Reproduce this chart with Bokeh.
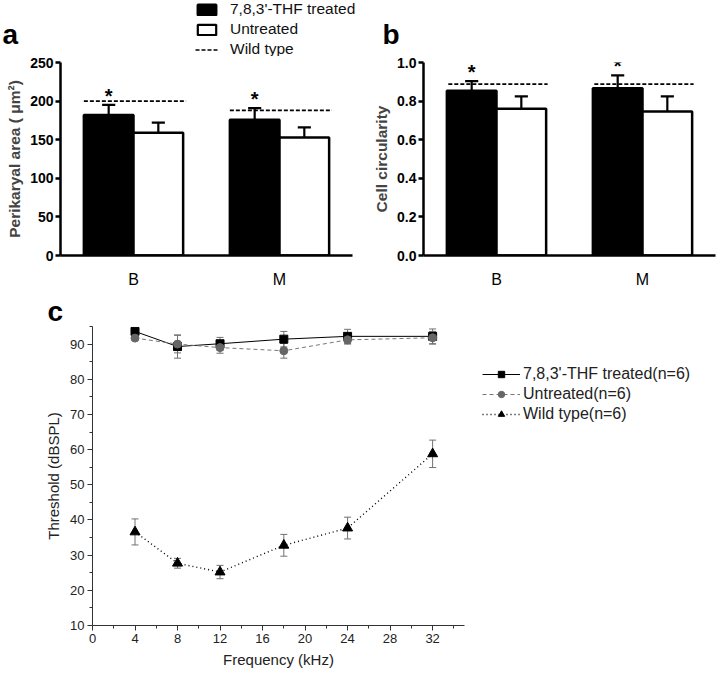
from bokeh.plotting import figure
from bokeh.models import (FactorRange, Range1d, Legend, LegendItem, Label, ColumnDataSource,
                          FixedTicker, PrintfTickFormatter)
from bokeh.transform import dodge
from bokeh.layouts import column, row
from bokeh.embed import file_html
from bokeh.resources import INLINE
from bokeh.core.properties import value

FONT = "Liberation Sans"
NAN = float("nan")

# ---------------- data ----------------
regions = ["B", "M"]
area_treated = [182, 176]
area_treated_err = [13, 15]
area_untreated = [159, 153]
area_untreated_err = [13, 13]
area_wild = [200, 188]
area_ticks = [0, 50, 100, 150, 200, 250]

circ_treated = [0.853, 0.866]
circ_treated_err = [0.05, 0.067]
circ_untreated = [0.76, 0.746]
circ_untreated_err = [0.065, 0.079]
circ_wild = [0.888, 0.888]
circ_ticks = [0.0, 0.2, 0.4, 0.6, 0.8, 1.0]

sig = ["*", "*"]

freq = [4, 8, 12, 18, 24, 32]
thr_treated = [93.6, 89.3, 90.1, 91.4, 92.2, 92.2]
thr_treated_err = [0.6, 3.3, 1.8, 2.2, 2.0, 2.1]
thr_untreated = [91.7, 90.0, 89.0, 88.1, 91.2, 91.8]
thr_untreated_err = [0.5, 2.5, 1.6, 2.1, 1.2, 1.8]
thr_wild = [36.6, 27.7, 25.2, 32.8, 37.7, 58.8]
thr_wild_err = [3.7, 1.4, 1.9, 3.1, 3.1, 3.9]
freq_ticks = [0, 4, 8, 12, 16, 20, 24, 28, 32]
freq_minor = [2, 6, 10, 14, 18, 22, 26, 30, 34]
thr_ticks = [10, 20, 30, 40, 50, 60, 70, 80, 90]
thr_minor = [15, 25, 35, 45, 55, 65, 75, 85, 95]

bar_labels = ["7,8,3'-THF treated", "Untreated", "Wild type"]
line_labels = ["7,8,3'-THF treated(n=6)", "Untreated(n=6)", "Wild type(n=6)"]
panel_letters = ["a", "b", "c"]

W = 720


def blank(width, height):
    p = figure(width=width, height=height, x_range=Range1d(0, width), y_range=Range1d(0, height),
               output_backend="svg", toolbar_location=None, min_border=0,
               x_axis_location=None, y_axis_location=None)
    p.outline_line_color = None
    p.grid.visible = False
    return p


def letter(p, text, x, y):
    p.add_layout(Label(x=x, y=y, text=text, text_font=FONT, text_font_size="28px",
                       text_font_style="bold", text_color="black", text_baseline="middle"))


# ---------------- header with key and letters a, b ----------------
head = blank(W, 56)
letter(head, panel_letters[0], 2, 22.5)
letter(head, panel_letters[1], 382, 22.5)
k1 = head.vbar(x=[NAN], top=[NAN], width=1, fill_color="black", line_color="black", line_width=2.5)
k2 = head.vbar(x=[NAN], top=[NAN], width=1, fill_color="white", line_color="black", line_width=2.2)
k3 = head.segment(x0=[NAN], y0=[NAN], x1=[NAN], y1=[NAN], line_color="black",
                  line_width=1.6, line_dash="4 2")
head.add_layout(Legend(items=[LegendItem(label=bar_labels[0], renderers=[k1]),
                              LegendItem(label=bar_labels[1], renderers=[k2]),
                              LegendItem(label=bar_labels[2], renderers=[k3])],
                       location=(195, -2), orientation="vertical",
                       glyph_width=23, glyph_height=13, label_height=13, spacing=2,
                       padding=0, margin=0, border_line_color=None, background_fill_alpha=0,
                       label_text_font=FONT, label_text_font_size="15.5px",
                       label_text_color="#111111", label_standoff=12))


def bar_panel(width, ymax, ticks, ylabel, treated, t_err, untreated, u_err, wild,
              border_left, border_right, wild_off, fmt=None):
    src = ColumnDataSource(dict(
        region=regions,
        t=treated, t_top=[a + b for a, b in zip(treated, t_err)],
        u=untreated, u_top=[a + b for a, b in zip(untreated, u_err)],
        w=wild, sig=sig))
    p = figure(x_range=FactorRange(*regions), y_range=Range1d(0, ymax),
               width=width, height=234, output_backend="svg", toolbar_location=None,
               min_border_left=border_left, min_border_right=border_right,
               min_border_top=6, min_border_bottom=35)
    p.x_range.range_padding = 0
    p.outline_line_color = None
    p.grid.visible = False
    off = 0.17
    bw = 0.34
    cap = 0.045
    p.vbar(x=dodge("region", -off, range=p.x_range), top="t", width=bw, source=src,
           fill_color="black", line_color="black", line_width=2.5)
    p.vbar(x=dodge("region", off, range=p.x_range), top="u", width=bw, source=src,
           fill_color="white", line_color="black", line_width=2.5)
    for o, base, top in ((-off, "t", "t_top"), (off, "u", "u_top")):
        p.segment(x0=dodge("region", o, range=p.x_range), y0=base,
                  x1=dodge("region", o, range=p.x_range), y1=top,
                  source=src, line_color="black", line_width=2.2)
        p.segment(x0=dodge("region", o - cap, range=p.x_range), y0=top,
                  x1=dodge("region", o + cap, range=p.x_range), y1=top,
                  source=src, line_color="black", line_width=2.2)
    p.segment(x0=dodge("region", wild_off[0], range=p.x_range), y0="w",
              x1=dodge("region", wild_off[1], range=p.x_range), y1="w",
              source=src, line_color="black", line_width=1.6, line_dash="4 2")
    p.text(x=dodge("region", -off, range=p.x_range), y="t_top", text="sig", source=src,
           text_font=value(FONT), text_font_size="20px", text_font_style="bold",
           text_align="center", text_baseline="middle", y_offset=-9, text_color="black")

    ya = p.yaxis[0]
    ya.ticker = FixedTicker(ticks=ticks)
    if fmt:
        ya.formatter = PrintfTickFormatter(format=fmt)
    ya.axis_label = ylabel
    ya.axis_label_text_font = FONT
    ya.axis_label_text_font_style = "bold"
    ya.axis_label_text_font_size = "15.5px"
    ya.axis_label_standoff = 4
    ya.major_label_text_font = FONT
    ya.major_label_text_font_style = "bold"
    ya.major_label_text_font_size = "14px"
    ya.major_label_text_color = "black"
    ya.major_label_standoff = 2
    ya.axis_line_width = 2.5
    ya.major_tick_line_width = 2.5
    ya.major_tick_in = 0
    ya.major_tick_out = 5
    ya.minor_tick_line_color = None

    xa = p.xaxis[0]
    xa.axis_line_width = 2.5
    xa.major_tick_line_color = None
    xa.minor_tick_line_color = None
    xa.major_label_text_font = FONT
    xa.major_label_text_font_size = "16px"
    xa.major_label_text_color = "black"
    xa.major_label_standoff = 9
    return p


pa = bar_panel(360, 250, area_ticks, "Perikaryal area ( \u03bcm\u00b2)",
               area_treated, area_treated_err, area_untreated, area_untreated_err,
               area_wild, 60, 8, (-0.34, 0.36))
pb = bar_panel(360, 1.0, circ_ticks, "Cell circularity",
               circ_treated, circ_treated_err, circ_untreated, circ_untreated_err,
               circ_wild, 63, 5, (-0.33, 0.35), fmt="%.1f")

# ---------------- header for letter c ----------------
head_c = blank(W, 36)
letter(head_c, panel_letters[2], 47, 15.5)

# ---------------- panel c ----------------
PCW = 470
PCH = 347
pc = figure(width=PCW, height=PCH, x_range=Range1d(0, 35), y_range=Range1d(10, 95),
            output_backend="svg", toolbar_location=None,
            min_border_left=92, min_border_right=6, min_border_top=0, min_border_bottom=48)
pc.outline_line_color = None
pc.grid.visible = False

series = [
    (thr_treated, thr_treated_err, "black", "solid", 1.0, "square", 8, "black"),
    (thr_untreated, thr_untreated_err, "#777777", "4 3", 1.0, "circle", 8, "#666666"),
    (thr_wild, thr_wild_err, "black", "1 3", 1.4, "triangle", 10, "black"),
]
for vals, errs, lc, dash, lw, mk, ms, mc in series:
    up = [v + e for v, e in zip(vals, errs)]
    lo = [v - e for v, e in zip(vals, errs)]
    pc.segment(x0=freq, y0=lo, x1=freq, y1=up, line_color="#707070", line_width=1)
    pc.scatter(freq, up, marker="dash", size=7, line_color="#707070", line_width=1)
    pc.scatter(freq, lo, marker="dash", size=7, line_color="#707070", line_width=1)
for vals, errs, lc, dash, lw, mk, ms, mc in series:
    pc.line(freq, vals, line_color=lc, line_width=lw, line_dash=dash)
    pc.scatter(freq, vals, marker=mk, size=ms, fill_color=mc, line_color=mc)

for ax, ticks, minor, lab in ((pc.xaxis[0], freq_ticks, freq_minor, "Frequency (kHz)"),
                              (pc.yaxis[0], thr_ticks, thr_minor, "Threshold (dBSPL)")):
    ax.ticker = FixedTicker(ticks=ticks, minor_ticks=minor)
    ax.axis_label = lab
    ax.axis_label_text_font = FONT
    ax.axis_label_text_font_style = "normal"
    ax.axis_label_text_font_size = "15px"
    ax.axis_label_text_color = "#222222"
    ax.axis_label_standoff = 5
    ax.major_label_text_font = FONT
    ax.major_label_text_font_size = "13px"
    ax.major_label_text_color = "#222222"
    ax.major_label_standoff = 3
    ax.axis_line_color = "#333333"
    ax.major_tick_line_color = "#333333"
    ax.minor_tick_line_color = "#333333"
    ax.major_tick_in = 0
    ax.major_tick_out = 5
    ax.minor_tick_in = 0
    ax.minor_tick_out = 3

# legend of panel c, in its own area to the right of the panel
pc_leg = blank(W - PCW, PCH)
items = []
for (vals, errs, lc, dash, lw, mk, ms, mc), lab in zip(series, line_labels):
    rl = pc_leg.line([NAN], [NAN], line_color=lc, line_width=lw, line_dash=dash)
    rs = pc_leg.scatter([NAN], [NAN], marker=mk, size=ms, fill_color=mc, line_color=mc)
    items.append(LegendItem(label=lab, renderers=[rl, rs]))
pc_leg.add_layout(Legend(items=items, location=(12, 250), orientation="vertical",
                         glyph_width=38, glyph_height=16, label_height=16, spacing=2,
                         padding=0, margin=0, border_line_color=None, background_fill_alpha=0,
                         label_text_font=FONT, label_text_font_size="16px",
                         label_text_color="#222222", label_standoff=3))

layout = column(row(head), row(pa, pb), row(head_c), row(column(pc), column(pc_leg)))
open("out.html", "w").write(file_html(layout, INLINE))
